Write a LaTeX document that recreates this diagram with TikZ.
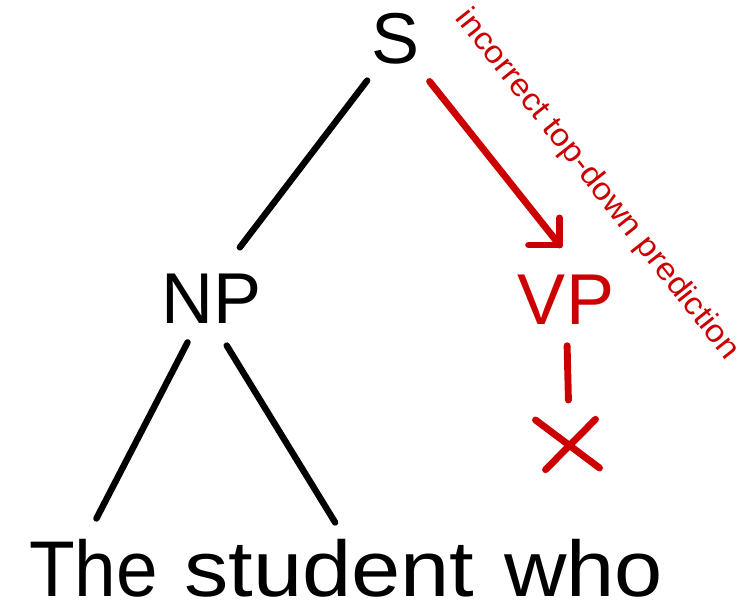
\documentclass[tikz,border=0pt]{standalone}
\usepackage{fontspec}
\setmainfont{Liberation Sans}
\usetikzlibrary{calc}
\definecolor{tred}{RGB}{204,0,0}
\tikzset{
  lbl/.style={inner sep=0pt, outer sep=0pt, anchor=base, font=\fontsize{72bp}{80bp}\selectfont},
  word/.style={inner sep=0pt, outer sep=0pt, anchor=base west, font=\fontsize{79bp}{86bp}\selectfont},
  branch/.style={line width=6.4bp, line cap=round},
  rbranch/.style={line width=6.9bp, line cap=round, line join=round, draw=tred},
  notelbl/.style={inner sep=0pt, outer sep=0pt, text=tred, font=\fontsize{31.5bp}{36bp}\selectfont},
}
\begin{document}
\begin{tikzpicture}[x=1bp,y=-1bp]
\useasboundingbox (0,0) rectangle (742,606);
% nodes
\node[lbl] (S) at (396,64) {S};
\node[lbl] (NP) at (212,323) {NP};
\node[lbl, text=tred] (VP) at (566,324.5) {VP};
\node[word] (The) at (29,596.5) {\scalebox{0.947}[1]{The}};
\node[word] (student) at (184.3,596.5) {\scalebox{1.12}[1]{student}};
\node[word] (who) at (504.4,596.5) {\scalebox{1.095}[1]{who}};
\node[notelbl, rotate=-51.6] (note) at (597,185) {\scalebox{1.08}[1]{incorrect top-down prediction}};
\coordinate (vptip) at (559.6,245);
\coordinate (X) at (569.5,445);
% black branches
\draw[branch, shorten <=52bp, shorten >=64bp] ([xshift=2.7bp]S.center) -- ([xshift=-11bp]NP.center);
\draw[branch, shorten <=49.7bp, shorten >=56bp] ([xshift=-1.6bp]NP.center) -- ([xshift=-22.8bp]The.center);
\draw[branch, shorten <=55.5bp, shorten >=53.7bp] ([xshift=-14.3bp]NP.center) -- ([xshift=33.8bp]student.center);
% red prediction arrow
\draw[rbranch, shorten <=54bp] (S.center) -- (vptip);
\draw[rbranch] (vptip) ++(0,-27) -- (vptip) -- ++(-31,0);
% VP to failure cross
\draw[rbranch, shorten <=46bp, shorten >=45bp] (VP.center) -- (X);
\draw[rbranch] (X) ++(-34,-25) -- ++(64,48);
\draw[rbranch] (X) ++(26,-25.7) -- ++(-50,50.4);
\end{tikzpicture}
\end{document}
